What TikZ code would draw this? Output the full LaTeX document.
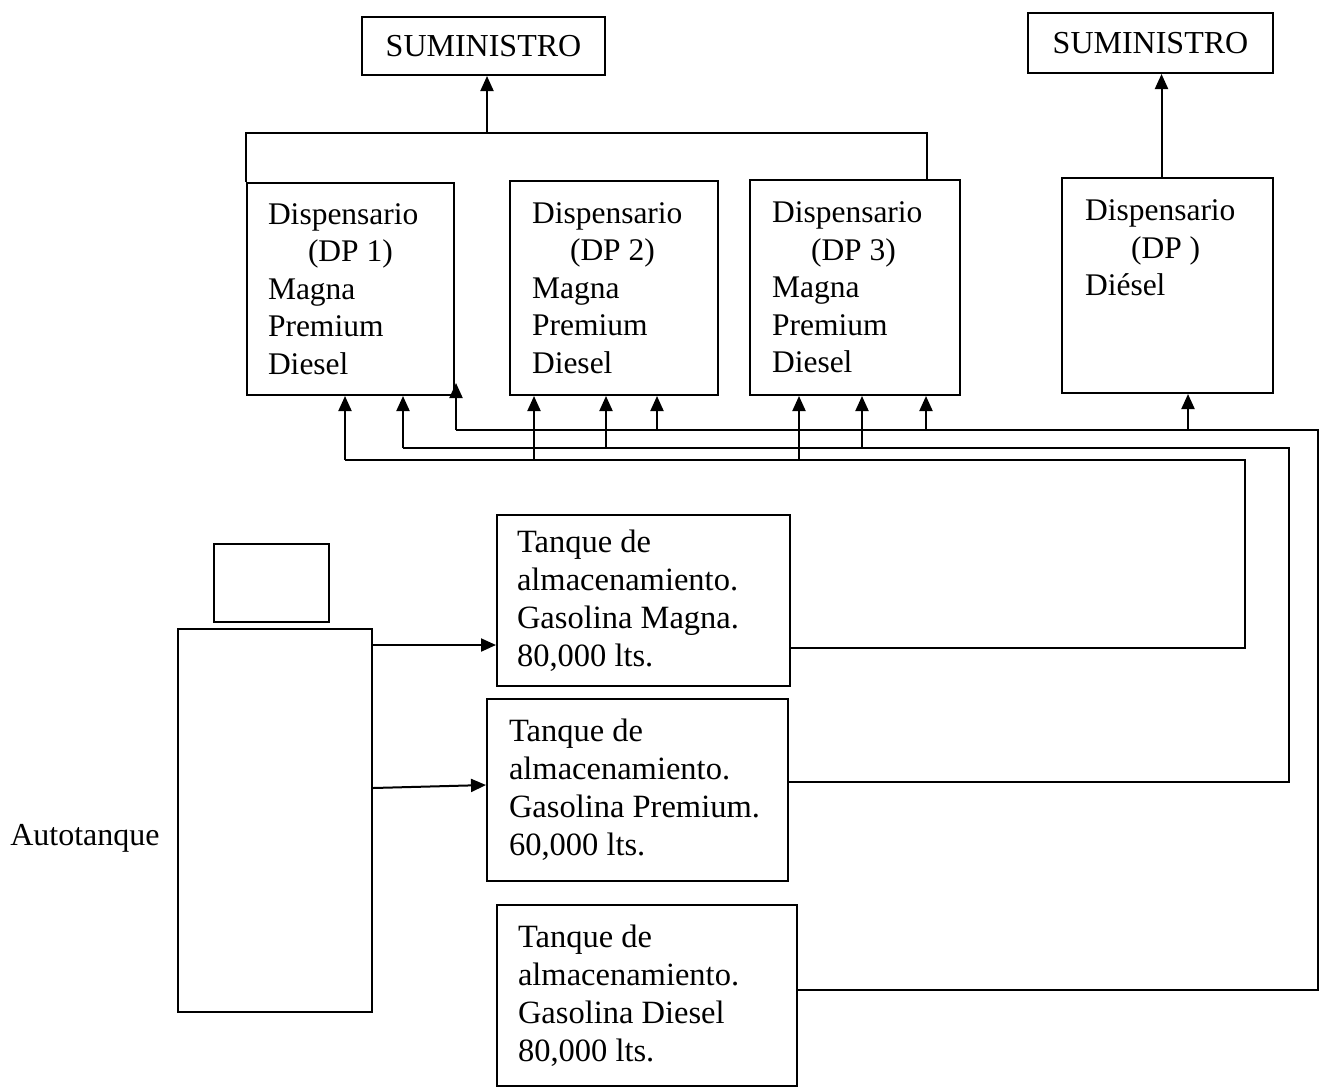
\documentclass[tikz,border=0pt]{standalone}
\usepackage{fontspec}
\setmainfont{Liberation Serif}
\usetikzlibrary{arrows.meta,calc}
\begin{document}
\begin{tikzpicture}[x=0.5pt,y=-0.5pt,
  line/.style={line width=1pt},
  arr/.style={line width=1pt,-{Triangle[width=6.5pt,length=7.5pt]}},
  bx/.style={draw,line width=1pt,inner ysep=0pt,align=flush left},
  dpbox/.style={bx,font=\fontsize{15.75}{18.75}\selectfont},
  tkbox/.style={bx,font=\fontsize{16.25}{19}\selectfont},
  subox/.style={draw,line width=1pt,inner sep=0pt,font=\fontsize{16}{19}\selectfont},
  plain/.style={draw=none,fill=none,inner sep=0pt}
]
\useasboundingbox (0,0) rectangle (1325,1087);

% supply boxes
\node[subox,minimum width=121.5pt,minimum height=29pt] (sum1) at (483.5,46) {SUMINISTRO};
\node[subox,minimum width=122.5pt,minimum height=30pt] (sum2) at (1150.5,43) {SUMINISTRO};

% dispensers
\node[dpbox,inner xsep=10.5pt,text width=82.5pt,minimum height=106pt] (dp1) at (350.5,289)
  {Dispensario\\\hspace*{20pt}(DP 1)\\Magna\\Premium\\Diesel};
\node[dpbox,inner xsep=11pt,text width=82pt,minimum height=107pt] (dp2) at (614,288)
  {Dispensario\\\hspace*{19pt}(DP 2)\\Magna\\Premium\\Diesel};
\node[dpbox,inner xsep=11pt,text width=83pt,minimum height=107.5pt] (dp3) at (855,287.5)
  {Dispensario\\\hspace*{19.5pt}(DP 3)\\Magna\\Premium\\Diesel};
\node[dpbox,inner xsep=11.5pt,text width=82.5pt,minimum height=107.5pt] (dp4) at (1167.5,285.5)
  {Dispensario\\\hspace*{23pt}(DP )\\Diésel\\\mbox{}\\\mbox{}};

% tanks
\node[tkbox,inner xsep=10pt,text width=126.5pt,minimum height=85.5pt] (magna) at (643.5,600.5)
  {Tanque de\\almacenamiento.\\Gasolina Magna.\\80,000 lts.};
\node[tkbox,inner xsep=11pt,text width=128.5pt,minimum height=91pt] (premium) at (637.5,790)
  {Tanque de\\almacenamiento.\\Gasolina Premium.\\60,000 lts.};
\node[tkbox,inner xsep=10.5pt,text width=129pt,minimum height=90.5pt] (diesel) at (647,995.5)
  {Tanque de\\almacenamiento.\\Gasolina Diesel\\80,000 lts.};

% autotanque
\node[draw,line width=1pt,minimum width=57.5pt,minimum height=39pt,inner sep=0pt] (cab) at (271.5,583) {};
\node[draw,line width=1pt,minimum width=97pt,minimum height=191.5pt,inner sep=0pt] (auto) at (275,820.5) {};
\node[plain,font=\fontsize{16}{19}\selectfont] (autolbl) at (85,838) {Autotanque};

% top connections
\coordinate (bus) at (487,133);
\draw[line] (dp1.north west) |- (bus) -| ([xshift=36pt]dp3.north);
\draw[arr] (bus) -- (bus |- sum1.south);
\draw[arr] ([xshift=-3pt]dp4.north) -- ([xshift=-3pt]dp4.north |- sum2.south);

% autotanque to tanks
\coordinate (a1) at ([yshift=-8.5pt]auto.north east);
\draw[arr] (a1) -- (magna.west |- a1);
\draw[arr] ([yshift=-80pt]auto.north east) -- ([yshift=2.5pt]premium.west);

% Magna line
\coordinate (mR) at (1245,460);
\coordinate (mL) at (345,460);
\coordinate (m2) at (534,460);
\coordinate (m3) at (799,460);
\draw[line] ([yshift=-23.5pt]magna.east) -| (mR) -- (mL);
\draw[arr] (mL) -- (mL |- dp1.south);
\draw[arr] (m2) -- (m2 |- dp2.south);
\draw[arr] (m3) -- (m3 |- dp3.south);

% Premium line
\coordinate (pR) at (1289,448);
\coordinate (pL) at (403,448);
\coordinate (p2) at (606,448);
\coordinate (p3) at (862,448);
\draw[line] ([yshift=4pt]premium.east) -| (pR) -- (pL);
\draw[arr] (pL) -- (pL |- dp1.south);
\draw[arr] (p2) -- (p2 |- dp2.south);
\draw[arr] (p3) -- (p3 |- dp3.south);

% Diesel line
\coordinate (dR) at (1318,430);
\coordinate (dL) at (456,430);
\coordinate (d2) at (657,430);
\coordinate (d3) at (926,430);
\coordinate (d4) at (1188,430);
\draw[line] ([yshift=2.75pt]diesel.east) -| (dR) -- (dL);
\draw[arr] (dL) -- ([yshift=6.5pt]dL |- dp1.south);
\draw[arr] (d2) -- (d2 |- dp2.south);
\draw[arr] (d3) -- (d3 |- dp3.south);
\draw[arr] (d4) -- (d4 |- dp4.south);
\end{tikzpicture}
\end{document}
